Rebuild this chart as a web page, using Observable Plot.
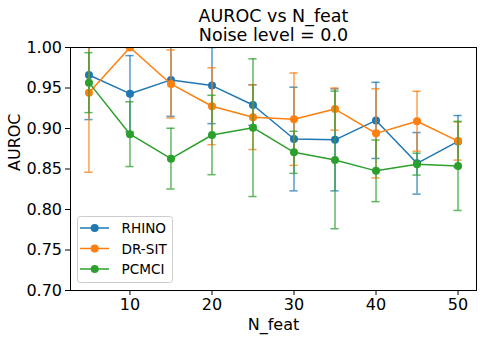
<!DOCTYPE html>
<html><head><meta charset="utf-8">
<script src="https://cdn.jsdelivr.net/npm/d3@7"></script>
<script src="https://cdn.jsdelivr.net/npm/@observablehq/plot@0.6"></script>
<style>
body{margin:0;background:#fff;font-family:"DejaVu Sans",sans-serif;}
#wrap{position:relative;width:483px;height:339px;}
#legend{position:absolute;left:0;top:0;pointer-events:none;}
</style></head><body><div id="wrap"></div>
<script>
const nFeat = [5, 10, 15, 20, 25, 30, 35, 40, 45, 50];
const series = ["RHINO", "DR-SIT", "PCMCI"];
const colors = ["#1f77b4", "#ff7f0e", "#2ca02c"];
const rhinoMean = [0.966, 0.943, 0.960, 0.953, 0.929, 0.887, 0.886, 0.910, 0.857, 0.884];
const rhinoStd  = [0.055, 0.047, 0.045, 0.047, 0.025, 0.064, 0.063, 0.047, 0.038, 0.032];
const drsitMean = [0.944, 1.000, 0.955, 0.9275, 0.914, 0.9115, 0.924, 0.894, 0.909, 0.8845];
const drsitStd  = [0.098, 0.000, 0.042, 0.0475, 0.040, 0.057, 0.026, 0.055, 0.037, 0.0235];
const pcmciMean = [0.9566, 0.893, 0.8628, 0.892, 0.901, 0.8706, 0.8612, 0.8477, 0.856, 0.8538];
const pcmciStd  = [0.037, 0.040, 0.0375, 0.049, 0.085, 0.026, 0.085, 0.038, 0.0135, 0.055];
const xTicks = [10, 20, 30, 40, 50];
const yTicks = [0.70, 0.75, 0.80, 0.85, 0.90, 0.95, 1.00];
const titleText = "AUROC vs N_feat\nNoise level = 0.0";
const xLabel = "N_feat";
const yLabel = "AUROC";

const means = [rhinoMean, drsitMean, pcmciMean];
const stds = [rhinoStd, drsitStd, pcmciStd];
const rows = [];
series.forEach((s, k) => nFeat.forEach((x, i) => rows.push({series: s, x, mean: means[k][i], std: stds[k][i]})));

const capHalf = 0.5;
const errAlpha = 0.75;
const marks = [];
for (const s of series) {
  const d = rows.filter(r => r.series === s);
  marks.push(Plot.ruleX(d, {x: "x", y1: r => r.mean - r.std, y2: r => r.mean + r.std, stroke: "series", strokeOpacity: errAlpha, strokeWidth: 1.5, clip: true}));
  marks.push(Plot.ruleY(d, {y: r => r.mean - r.std, x1: r => r.x - capHalf, x2: r => r.x + capHalf, stroke: "series", strokeOpacity: errAlpha, strokeWidth: 1.5, clip: true}));
  marks.push(Plot.ruleY(d, {y: r => r.mean + r.std, x1: r => r.x - capHalf, x2: r => r.x + capHalf, stroke: "series", strokeOpacity: errAlpha, strokeWidth: 1.5, clip: true}));
  marks.push(Plot.line(d, {x: "x", y: "mean", stroke: "series", strokeWidth: 1.5, clip: true}));
  marks.push(Plot.dot(d, {x: "x", y: "mean", fill: "series", r: 4, clip: true}));
}

const chart = Plot.plot({
  width: 483, height: 339,
  marginLeft: 70, marginRight: 7, marginTop: 47, marginBottom: 49,
  style: {fontFamily: "DejaVu Sans", fontSize: "16px", color: "black", background: "white"},
  x: {domain: [2.75, 52.25]},
  y: {domain: [0.70, 1.00]},
  color: {domain: series, range: colors},
  marks: [
    ...marks,
    Plot.frame({stroke: "black", strokeWidth: 1}),
    Plot.axisX({ticks: xTicks, tickSize: 5, tickPadding: 3.5, fontSize: 16, label: null}),
    Plot.axisY({ticks: yTicks, tickFormat: d3.format(".2f"), tickSize: 5, tickPadding: 3.5, fontSize: 16, label: null}),
    Plot.text([titleText], {text: d => d, frameAnchor: "top", dy: -6.5, lineAnchor: "bottom", fontSize: 17.5, lineHeight: 1.114, fill: "black"}),
    Plot.text([xLabel], {text: d => d, frameAnchor: "bottom", dy: 39, lineAnchor: "bottom", fontSize: 16, fill: "black"}),
    Plot.text([yLabel], {text: d => d, frameAnchor: "left", rotate: -90, dx: -51, dy: 2, lineAnchor: "bottom", fontSize: 16, fill: "black"})
  ]
});
const wrap = document.getElementById("wrap");
wrap.appendChild(chart);

// legend overlay
const lg = d3.select(wrap).append("svg").attr("id", "legend").attr("width", 483).attr("height", 339);
lg.append("rect").attr("x", 77.5).attr("y", 216.5).attr("width", 95).attr("height", 66).attr("rx", 3)
  .attr("fill", "white").attr("fill-opacity", 0.8).attr("stroke", "#cccccc");
series.forEach((s, k) => {
  const cy = 228 + k * 20.5;
  lg.append("line").attr("x1", 80).attr("x2", 109).attr("y1", cy).attr("y2", cy).attr("stroke", colors[k]).attr("stroke-width", 1.5);
  lg.append("circle").attr("cx", 94.7).attr("cy", cy).attr("r", 4).attr("fill", colors[k]);
  lg.append("text").attr("x", 121.5).attr("y", cy + 5).attr("font-family", "DejaVu Sans").attr("font-size", 13.6).attr("fill", "black").text(s);
});
</script></body></html>
